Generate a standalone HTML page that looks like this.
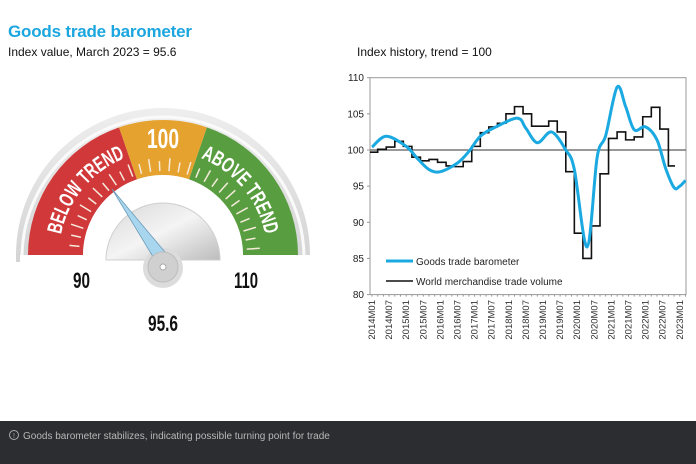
<!DOCTYPE html>
<html><head><meta charset="utf-8"><style>
body{margin:0;width:696px;height:464px;background:#fff;overflow:hidden;font-family:"Liberation Sans",sans-serif;position:relative}
.t{position:absolute;white-space:nowrap}
</style></head><body>
<div class="t" style="left:8px;top:22px;font-size:17px;font-weight:bold;color:#1ba6df;letter-spacing:-0.2px">Goods trade barometer</div>
<div class="t" style="left:8px;top:45px;font-size:12px;color:#111">Index value, March 2023 = 95.6</div>
<div class="t" style="left:357px;top:45px;font-size:12px;color:#111">Index history, trend = 100</div>
<svg width="696" height="464" style="position:absolute;left:0;top:0" xmlns="http://www.w3.org/2000/svg">
<defs>
<linearGradient id="hub" x1="0" y1="0" x2="1" y2="1"><stop offset="0" stop-color="#d8d8d8"/><stop offset="0.5" stop-color="#f4f4f4"/><stop offset="1" stop-color="#bcbcbc"/></linearGradient>
<linearGradient id="rim" x1="0" y1="0" x2="0" y2="1"><stop offset="0" stop-color="#eeeeee"/><stop offset="1" stop-color="#d4d4d4"/></linearGradient>
</defs>
<g id="gauge"></g>
<g id="chart"></g>
<rect x="0" y="421" width="696" height="43" fill="#2b2d31"/>
<circle cx="14" cy="435" r="4.5" fill="none" stroke="#aaa" stroke-width="1"/>
<text x="14" y="438" font-size="7" fill="#aaa" text-anchor="middle">!</text>
<text x="23" y="439" font-size="10" fill="#b8b8b8">Goods barometer stabilizes, indicating possible turning point for trade</text>
</svg>
<script>
var NS="http://www.w3.org/2000/svg";
function el(p,t,a,txt){var e=document.createElementNS(NS,t);for(var k in a)e.setAttribute(k,a[k]);if(txt!=null)e.textContent=txt;p.appendChild(e);return e;}
var g=document.getElementById('gauge');
var cx=163,cy=255;
function pt(r,a){a=a*Math.PI/180;return [cx+r*Math.cos(a),cy-r*Math.sin(a)];}
function sector(r1,r2,a1,a2,fill){var p1=pt(r2,a1),p2=pt(r2,a2),p3=pt(r1,a2),p4=pt(r1,a1);
 el(g,'path',{d:'M'+p1+' A'+r2+' '+r2+' 0 0 1 '+p2+' L'+p3+' A'+r1+' '+r1+' 0 0 0 '+p4+' Z',fill:fill});}
el(g,'path',{d:'M16,262 L16,255 A147 147 0 0 1 310 255 L310 262 Z',fill:'url(#rim)'});
el(g,'path',{d:'M22,258 A141 141 0 0 1 304 258',fill:'none',stroke:'#fafafa','stroke-width':3});
el(g,'rect',{x:26,y:255,width:274,height:8,fill:'#fff'});
sector(80,135,180,109,'#d0383a');
sector(80,135,109,71,'#e6a22e');
sector(80,135,71,0,'#589d3f');
el(g,'circle',{cx:cx,cy:cy,r:80,fill:'#fff'});
el(g,'rect',{x:20,y:255,width:290,height:10,fill:'#fff'});
for(var a=4;a<=176;a+=6.3){var p=pt(84,a),q=pt(a%12<6?97:94,a);
 el(g,'line',{x1:p[0],y1:p[1],x2:q[0],y2:q[1],stroke:'#f6eadb','stroke-width':1.5});}
el(g,'path',{id:'lp',d:'M'+pt(104,174)+' A104 104 0 0 1 '+pt(104,106),fill:'none'});
el(g,'path',{id:'rp',d:'M'+pt(104,74)+' A104 104 0 0 1 '+pt(104,6),fill:'none'});
var t1=el(g,'text',{'font-size':21,'font-weight':'bold',fill:'#fff'});
el(t1,'textPath',{href:'#lp',startOffset:'50%','text-anchor':'middle',textLength:104,lengthAdjust:'spacingAndGlyphs'},'BELOW TREND');
var t2=el(g,'text',{'font-size':21,'font-weight':'bold',fill:'#fff'});
el(t2,'textPath',{href:'#rp',startOffset:'50%','text-anchor':'middle',textLength:104,lengthAdjust:'spacingAndGlyphs'},'ABOVE TREND');
el(g,'text',{x:147,y:148,'font-size':28,'font-weight':'bold',fill:'#fff',textLength:32,lengthAdjust:'spacingAndGlyphs'},'100');
el(g,'path',{d:'M106,260 A57 57 0 0 1 220 260 Z',fill:'url(#hub)',stroke:'#cfcfcf'});
el(g,'circle',{cx:163,cy:268,r:20,fill:'#dcdcdc'});
el(g,'polygon',{points:'112,189 158,265 170,258',fill:'#a8d6ef',stroke:'#6a9bb6','stroke-width':0.8});
el(g,'circle',{cx:163,cy:267,r:15,fill:'#d0d0d0',stroke:'#bdbdbd'});
el(g,'circle',{cx:163,cy:267,r:3,fill:'#fff',stroke:'#aaa'});
el(g,'text',{x:73,y:288,'font-size':22,'font-weight':'bold',fill:'#111',textLength:17,lengthAdjust:'spacingAndGlyphs'},'90');
el(g,'text',{x:234,y:288,'font-size':22,'font-weight':'bold',fill:'#111',textLength:24,lengthAdjust:'spacingAndGlyphs'},'110');
el(g,'text',{x:148,y:331,'font-size':22,'font-weight':'bold',fill:'#111',textLength:30,lengthAdjust:'spacingAndGlyphs'},'95.6');

var c=document.getElementById('chart');
var X0=372,DX=2.85,L=370,R=686;
function X(i){return X0+DX*i;}
function Y(v){return 150-(v-100)*7.23;}
el(c,'rect',{x:L,y:Y(110),width:R-L,height:Y(80)-Y(110),fill:'none',stroke:'#999','stroke-width':1});
for(var v=80;v<=110;v+=5){el(c,'text',{x:364,y:Y(v)+3.5,'font-size':10,fill:'#222','text-anchor':'end'},v);
 el(c,'line',{x1:L-3,y1:Y(v),x2:L,y2:Y(v),stroke:'#999'});}
for(var i=0;i<=110;i+=2){el(c,'line',{x1:X(i),y1:Y(80),x2:X(i),y2:Y(80)+2,stroke:'#999'});}
for(var k=0;k<=18;k++){var yr=2014+Math.floor(k/2),m=k%2?'M07':'M01',x=X(k*6)+3;
 el(c,'text',{x:0,y:0,'font-size':9.5,fill:'#333','text-anchor':'end',transform:'translate('+x+',300) rotate(-90)'},yr+m);}
el(c,'line',{x1:L,y1:Y(100),x2:R,y2:Y(100),stroke:'#777','stroke-width':1.5});
var q=[99.7,100.1,100.4,101.2,100.5,99.0,98.5,98.7,98.3,97.8,97.7,98.4,100.5,102.4,103.2,103.7,105.0,106.0,105.0,103.3,103.3,104.0,102.5,97.0,88.5,85.0,89.5,96.7,101.6,102.5,101.4,101.8,104.6,105.9,102.9,97.8];
var d='';for(var k=0;k<q.length;k++){var a1=Math.max(L,X(3*k-1)),a2=(k==q.length-1)?675:X(3*k+2);
 d+=(k?'L':'M')+a1+','+Y(q[k])+' L'+a2+','+Y(q[k])+' ';}
el(c,'path',{d:d,fill:'none',stroke:'#111','stroke-width':1.6});
var b=[[0,100.4],[5,101.9],[12,100.5],[16,98.8],[20,97.3],[24,97.0],[30,98.2],[34,99.8],[38,101.9],[43,103.1],[51,104.4],[54,103],[58,101],[63,102.5],[68,100],[71,97.3],[75.5,86.6],[79,99],[82,102],[86,108.7],[89,106],[92,102.8],[96,103.2],[100,101.4],[103,97.5],[106,94.8],[108,95],[110,95.8]];
var P=b.map(function(p){return [X(p[0]),Y(p[1])];});
var s='M'+P[0];for(var j=0;j<P.length-1;j++){var p0=P[Math.max(0,j-1)],p1=P[j],p2=P[j+1],p3=P[Math.min(P.length-1,j+2)];
 var c1=[p1[0]+(p2[0]-p0[0])/6,p1[1]+(p2[1]-p0[1])/6],c2=[p2[0]-(p3[0]-p1[0])/6,p2[1]-(p3[1]-p1[1])/6];
 s+=' C'+c1+' '+c2+' '+p2;}
el(c,'path',{d:s,fill:'none',stroke:'#1ba9e1','stroke-width':3});
el(c,'line',{x1:386,y1:261,x2:413,y2:261,stroke:'#1ba9e1','stroke-width':3});
el(c,'text',{x:416,y:265,'font-size':10,fill:'#222'},'Goods trade barometer');
el(c,'line',{x1:386,y1:281,x2:413,y2:281,stroke:'#111','stroke-width':1.6});
el(c,'text',{x:416,y:285,'font-size':10,fill:'#222'},'World merchandise trade volume');
</script>
</body></html>
